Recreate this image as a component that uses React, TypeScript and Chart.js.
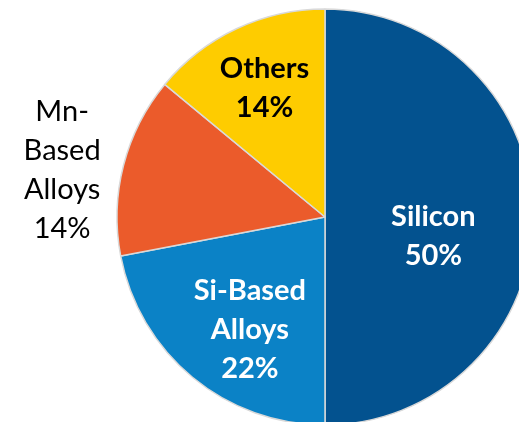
import React, { useEffect, useRef } from "react";
import { Chart, registerables } from "chart.js";

Chart.register(...registerables);

const categories = ["Silicon", "Si-Based Alloys", "Mn-Based Alloys", "Others"];
const shares = [50, 22, 14, 14];
const labelLines = [
  ["Silicon", "50%"],
  ["Si-Based", "Alloys", "22%"],
  ["Mn-", "Based", "Alloys", "14%"],
  ["Others", "14%"],
];
const sliceColors = ["#03528f", "#0b82c6", "#eb5b2b", "#fecc00"];

const labelStyle = [
  { dist: 110, shift: 10, color: "#ffffff", bold: true },
  { dist: 135, shift: -5.8, color: "#ffffff", bold: true },
  { dist: 267, shift: -4.3, color: "#000000", bold: false },
  { dist: 142, shift: 0, color: "#000000", bold: true },
];

const FONT = "Lato, 'Open Sans', sans-serif";

const labelPlugin = {
  id: "sliceLabels",
  afterDatasetsDraw(chart: any) {
    const ctx = chart.ctx;
    const meta = chart.getDatasetMeta(0);
    meta.data.forEach((arc: any, i: number) => {
      const p = arc.getProps(["x", "y", "startAngle", "endAngle"], true);
      const st = labelStyle[i];
      const mid = (p.startAngle + p.endAngle) / 2 + (st.shift * Math.PI) / 180;
      const cx = p.x + Math.cos(mid) * st.dist;
      const cy = p.y + Math.sin(mid) * st.dist;
      const lines = labelLines[i];
      const lh = 39;
      ctx.save();
      ctx.fillStyle = st.color;
      ctx.textAlign = "center";
      ctx.textBaseline = "middle";
      ctx.font = `${st.bold ? "bold " : ""}29px ${FONT}`;
      lines.forEach((t, k) => {
        const y = cy + (k - (lines.length - 1) / 2) * lh;
        ctx.fillText(t, cx, y);
      });
      ctx.restore();
    });
  },
};

export default function App() {
  const ref = useRef<HTMLCanvasElement>(null);
  useEffect(() => {
    if (!ref.current) return;
    const chart = new Chart(ref.current, {
      type: "pie",
      data: {
        labels: categories,
        datasets: [
          {
            data: shares,
            backgroundColor: sliceColors,
            borderColor: "#d9d9d9",
            borderWidth: 1.5,
            radius: 208,
          } as any,
        ],
      },
      options: {
        animation: false,
        responsive: false,
        devicePixelRatio: 1,
        layout: { padding: 0 },
        plugins: {
          legend: { display: false },
          tooltip: { enabled: false },
        },
      },
      plugins: [labelPlugin],
    });
    return () => chart.destroy();
  }, []);
  return (
    <div
      style={{
        position: "absolute",
        left: 0,
        top: 0,
        width: 519,
        height: 422,
        overflow: "hidden",
        background: "#fff",
      }}
    >
      <canvas
        ref={ref}
        width={650}
        height={434}
        style={{ position: "absolute", left: 0, top: 0, width: 650, height: 434 }}
      />
    </div>
  );
}
